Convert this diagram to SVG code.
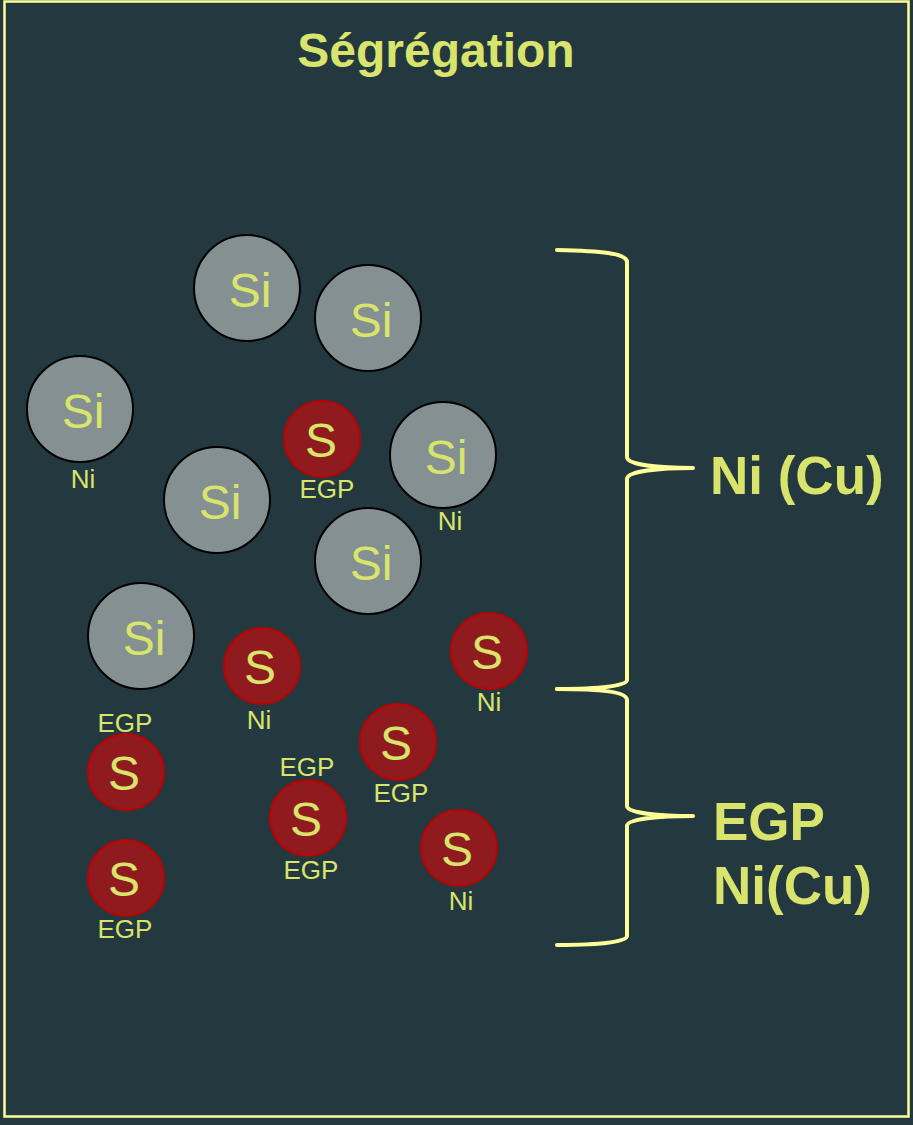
<svg xmlns="http://www.w3.org/2000/svg" width="913" height="1125" viewBox="0 0 913 1125">
  <defs>
    <style>
      .si { fill: #859092; stroke: #000; stroke-width: 2; }
      .s { fill: #8F1B1F; stroke: #C00000; stroke-width: 2; }
      .sym { font-family: "Liberation Sans", Arial, sans-serif; font-size: 48px; fill: #D9E46C; text-anchor: middle; }
      .lbl { font-family: "Liberation Sans", Arial, sans-serif; font-size: 26px; fill: #D9E46C; text-anchor: middle; }
      .big { font-family: "Liberation Sans", Arial, sans-serif; font-size: 53px; font-weight: bold; fill: #D9E46C; }
      .brace { fill: none; stroke: #FFFF99; stroke-width: 4; stroke-linecap: round; stroke-linejoin: round; }
    </style>
  </defs>

  <!-- background and frame -->
  <rect x="0" y="0" width="913" height="1125" fill="#24383F"/>
  <rect x="4.5" y="1.5" width="904" height="1115" fill="none" stroke="#FFFF99" stroke-width="2.5"/>

  <text x="436" y="67" text-anchor="middle" font-family="Liberation Sans, Arial, sans-serif" font-size="48" font-weight="bold" fill="#D9E46C">Ségrégation</text>

  <!-- silicon atoms -->
  <g id="si1"><circle class="si" cx="247" cy="288" r="53"/><text class="sym" x="250" y="307">Si</text></g>
  <g id="si2"><circle class="si" cx="368" cy="318" r="53"/><text class="sym" x="371" y="337">Si</text></g>
  <g id="si3"><circle class="si" cx="80" cy="409" r="53"/><text class="sym" x="83" y="428">Si</text><text class="lbl" x="83" y="488">Ni</text></g>
  <g id="si4"><circle class="si" cx="443" cy="455" r="53"/><text class="sym" x="446" y="474">Si</text><text class="lbl" x="450" y="530">Ni</text></g>
  <g id="si5"><circle class="si" cx="217" cy="500" r="53"/><text class="sym" x="220" y="519">Si</text></g>
  <g id="si6"><circle class="si" cx="368" cy="561" r="53"/><text class="sym" x="371" y="580">Si</text></g>
  <g id="si7"><circle class="si" cx="141" cy="636" r="53"/><text class="sym" x="144" y="655">Si</text></g>

  <!-- sulfur atoms -->
  <g id="s1"><circle class="s" cx="322" cy="439" r="38"/><text class="sym" x="321" y="457">S</text><text class="lbl" x="327" y="498">EGP</text></g>
  <g id="s2"><circle class="s" cx="262" cy="666" r="38"/><text class="sym" x="260" y="684">S</text><text class="lbl" x="259" y="729">Ni</text></g>
  <g id="s3"><circle class="s" cx="489" cy="651" r="38"/><text class="sym" x="487" y="669">S</text><text class="lbl" x="489" y="711">Ni</text></g>
  <g id="s4"><circle class="s" cx="126" cy="772" r="38"/><text class="sym" x="124" y="790">S</text><text class="lbl" x="125" y="732">EGP</text></g>
  <g id="s5"><circle class="s" cx="398" cy="742" r="38"/><text class="sym" x="396" y="760">S</text><text class="lbl" x="401" y="802">EGP</text></g>
  <g id="s6"><circle class="s" cx="308" cy="818" r="38"/><text class="sym" x="306" y="836">S</text><text class="lbl" x="307" y="776">EGP</text><text class="lbl" x="311" y="879">EGP</text></g>
  <g id="s7"><circle class="s" cx="459" cy="848" r="38"/><text class="sym" x="457" y="866">S</text><text class="lbl" x="461" y="910">Ni</text></g>
  <g id="s8"><circle class="s" cx="126" cy="878" r="38"/><text class="sym" x="124" y="896">S</text><text class="lbl" x="125" y="938">EGP</text></g>

  <!-- braces -->
  <g id="connectors">
    <path class="brace" d="M557,250 C600,251 627,253 627,262 L627,457 C627,465 660,468 693,468 C660,468 627,471 627,479 L627,680 C627,686 600,689 557,689"/>
    <path class="brace" d="M557,689 C600,689 627,692 627,700 L627,806 C627,813 660,816 693,816 C660,816 627,819 627,826 L627,936 C627,942 600,945 557,945"/>
  </g>

  <g id="label-top"><text class="big" x="710" y="494">Ni (Cu)</text></g>
  <g id="label-bottom"><text class="big" x="713" y="840">EGP</text><text class="big" x="713" y="904">Ni(Cu)</text></g>
</svg>
